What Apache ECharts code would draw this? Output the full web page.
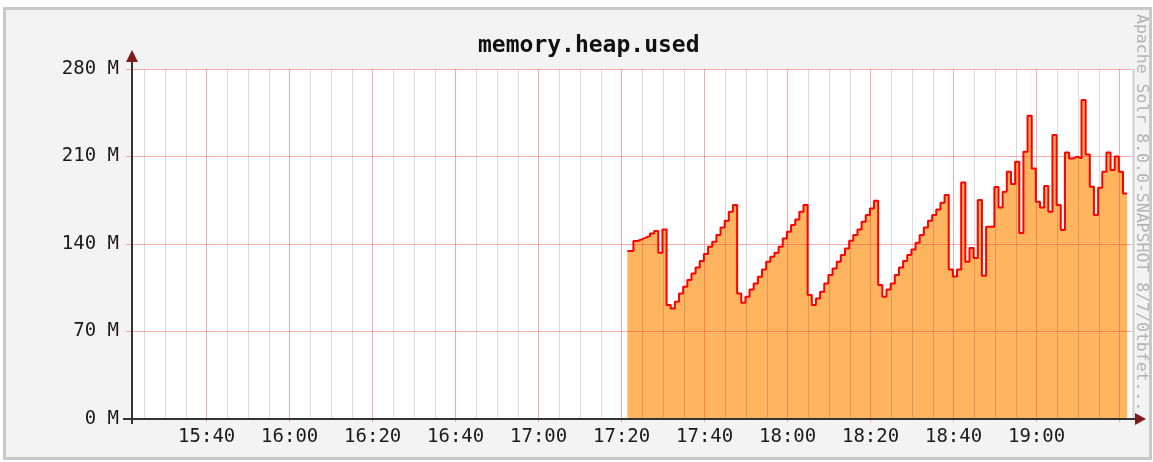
<!DOCTYPE html>
<html>
<head>
<meta charset="utf-8">
<script src="https://cdn.jsdelivr.net/npm/echarts@6/dist/echarts.min.js"></script>
<style>
  html, body { margin: 0; padding: 0; background: #ffffff; }
  #chart { width: 1153px; height: 462px; }
</style>
</head>
<body>
<div id="chart"></div>
<script>
// ---- chart data ----------------------------------------------------------
const chartTitle = 'memory.heap.used';
const watermark = 'Apache Solr 8.0.0-SNAPSHOT 8/7/0tbfet...';

// y axis (values in M)
const yMax = 280;
const yStep = 70;

// x axis window and label times
const axisStart = '15:22';
const axisEnd = '19:23';
const majorTimes = ['15:40', '16:00', '16:20', '16:40', '17:00', '17:20', '17:40', '18:00', '18:20', '18:40', '19:00', '19:20'];
const labelTimes = ['15:40', '16:00', '16:20', '16:40', '17:00', '17:20', '17:40', '18:00', '18:20', '18:40', '19:00'];

// samples: a partial first slot, then one sample per minute
const firstSampleTime = '17:21:23';
const minuteSamplesFrom = '17:22:50';
const heapUsedM = [
  134.4,
  142.4, 143.7, 145.1, 146.4, 148.5, 150.4, 133.1, 151.7, 91.2, 88.5,
  93.9, 100.5, 105.9, 111.2, 116.5, 121.3, 126.4, 132.0, 137.9, 141.9,
  147.2, 153.3, 158.7, 165.9, 171.2, 100.5, 93.1, 97.9, 103.7, 108.5,
  113.9, 119.7, 125.9, 129.9, 133.1, 137.9, 144.5, 149.9, 155.2, 159.7,
  165.9, 171.2, 99.2, 91.2, 96.5, 101.9, 108.5, 115.2, 120.5, 125.9,
  131.2, 136.5, 142.7, 147.2, 151.7, 157.9, 163.2, 168.5, 174.6, 107.2,
  97.9, 103.7, 108.5, 115.2, 121.3, 126.4, 131.2, 135.7, 141.1, 147.2,
  153.3, 158.7, 163.2, 167.7, 173.1, 179.2, 119.7, 114.1, 119.7, 189.3,
  125.9, 136.8, 128.8, 175.2, 114.7, 153.9, 153.9, 185.6, 169.3, 181.9,
  197.9, 188.0, 205.9, 148.8, 213.9, 242.7, 200.5, 173.9, 169.3, 186.4,
  165.9, 227.2, 171.2, 151.2, 213.3, 208.5, 209.9, 208.5, 255.2, 211.7,
  185.9, 163.2, 185.1, 197.9, 213.3, 199.2, 210.1, 197.9, 180.5
];

// ---- helpers -------------------------------------------------------------
function at(hms) {
  const p = hms.split(':').map(Number);
  return new Date(2019, 7, 7, p[0], p[1], p[2] || 0).getTime();
}
function hhmm(ts) {
  const d = new Date(ts);
  return String(d.getHours()).padStart(2, '0') + ':' + String(d.getMinutes()).padStart(2, '0');
}
const MIN = 60 * 1000;

// series points: each value holds until the next sample (step 'end'),
// with a closing point so the last minute is drawn too
const points = [[at(firstSampleTime), heapUsedM[0]]];
const base = at(minuteSamplesFrom);
for (let i = 1; i < heapUsedM.length; i++) {
  points.push([base + (i - 1) * MIN, heapUsedM[i]]);
}
points.push([base + (heapUsedM.length - 1) * MIN, heapUsedM[heapUsedM.length - 1]]);

const majorValues = majorTimes.map(at);
const labelValues = labelTimes.map(at);
const minorValues = [];
for (let t = at('15:25'); t < at(axisEnd); t += 5 * MIN) {
  if (majorValues.indexOf(t) < 0) minorValues.push(t);
}

// ---- chart ---------------------------------------------------------------
const mono = '"DejaVu Sans Mono", "Liberation Mono", monospace';
const axisColor = '#333333';
const arrowColor = '#7d1a1a';
const majorGrid = 'rgba(235, 60, 60, 0.42)';
const minorGrid = 'rgba(0, 0, 0, 0.14)';

const chart = echarts.init(document.getElementById('chart'), null, { renderer: 'canvas' });

const G = { left: 132, top: 69, right: 21, bottom: 43 };
const plotRight = 1153 - G.right;
const plotBottom = 462 - G.bottom;

chart.setOption({
  animation: false,
  backgroundColor: 'transparent',
  title: {
    text: chartTitle,
    left: 473,
    top: 30,
    textStyle: { fontFamily: mono, fontSize: 23, fontWeight: 'bold', color: '#111111' }
  },
  grid: {
    left: G.left, top: G.top, right: G.right, bottom: G.bottom,
    show: false
  },
  xAxis: [
    {
      type: 'value',
      min: at(axisStart), max: at(axisEnd),
      position: 'bottom',
      z: 3,
      axisLine: { show: false },
      axisTick: { show: true, customValues: majorValues, length: 3, inside: false,
                  lineStyle: { color: majorGrid, width: 1 } },
      axisLabel: {
        customValues: labelValues,
        formatter: (v) => hhmm(v),
        fontFamily: mono, fontSize: 19, color: '#1a1a1a', margin: 9
      },
      splitLine: { show: true, lineStyle: { color: majorGrid, width: 1 } }
    },
    {
      type: 'value',
      min: at(axisStart), max: at(axisEnd),
      position: 'bottom',
      z: 2,
      axisLine: { show: false },
      axisTick: { show: false, customValues: minorValues },
      axisLabel: { show: false, customValues: minorValues },
      splitLine: { show: true, lineStyle: { color: minorGrid, width: 1 } }
    }
  ],
  yAxis: {
    type: 'value',
    min: 0, max: yMax, interval: yStep,
    z: 3,
    axisLine: { show: false },
    axisTick: { show: true, length: 6, lineStyle: { color: majorGrid, width: 1 } },
    axisLabel: {
      formatter: (v) => v + ' M',
      fontFamily: mono, fontSize: 19, color: '#1a1a1a', margin: 13
    },
    splitLine: { show: true, lineStyle: { color: majorGrid, width: 1 } }
  },
  series: [
    {
      name: 'fill',
      type: 'line',
      step: 'end',
      data: points,
      xAxisIndex: 0,
      symbol: 'none',
      silent: true,
      z: 1,
      lineStyle: { width: 0 },
      areaStyle: { color: '#ffb45f', opacity: 1 }
    },
    {
      name: chartTitle,
      type: 'line',
      step: 'end',
      data: points,
      xAxisIndex: 0,
      symbol: 'none',
      z: 5,
      lineStyle: { color: '#ff0000', width: 2 }
    }
  ],
  graphic: [
    // light canvas with a grey frame
    { type: 'rect', z: -10, silent: true,
      shape: { x: 4.5, y: 8.5, width: 1146, height: 450 },
      style: { fill: '#f3f3f3', stroke: '#c9c9c9', lineWidth: 3 } },
    // plot area on top of the canvas
    { type: 'rect', z: -9, silent: true,
      shape: { x: G.left, y: G.top, width: plotRight - G.left, height: plotBottom - G.top },
      style: { fill: '#ffffff' } },
    // closing edge on the right of the plot area
    { type: 'line', z: 2, silent: true,
      shape: { x1: plotRight + 1.5, y1: G.top, x2: plotRight + 1.5, y2: plotBottom },
      style: { stroke: minorGrid, lineWidth: 2 } },
    // axes, running past the origin and on to the arrows
    { type: 'line', z: 10, silent: true,
      shape: { x1: G.left, y1: plotBottom + 5, x2: G.left, y2: 58 },
      style: { stroke: axisColor, lineWidth: 2 } },
    { type: 'line', z: 10, silent: true,
      shape: { x1: G.left - 9, y1: plotBottom, x2: plotRight + 6, y2: plotBottom },
      style: { stroke: axisColor, lineWidth: 2 } },
    // arrow heads
    { type: 'polygon', z: 11, silent: true,
      shape: { points: [[G.left - 6, 62], [G.left + 6, 62], [G.left, 50]] },
      style: { fill: arrowColor } },
    { type: 'polygon', z: 11, silent: true,
      shape: { points: [[plotRight + 3, plotBottom - 6], [plotRight + 3, plotBottom + 6], [plotRight + 14, plotBottom]] },
      style: { fill: arrowColor } },
    // vertical watermark on the right edge
    { type: 'text', z: 10, silent: true,
      x: 1141, y: 14, rotation: -Math.PI / 2,
      style: { text: watermark, font: '16.5px ' + mono, fill: '#b3b3b3',
               textAlign: 'left', textVerticalAlign: 'middle' } }
  ]
});
</script>
</body>
</html>
